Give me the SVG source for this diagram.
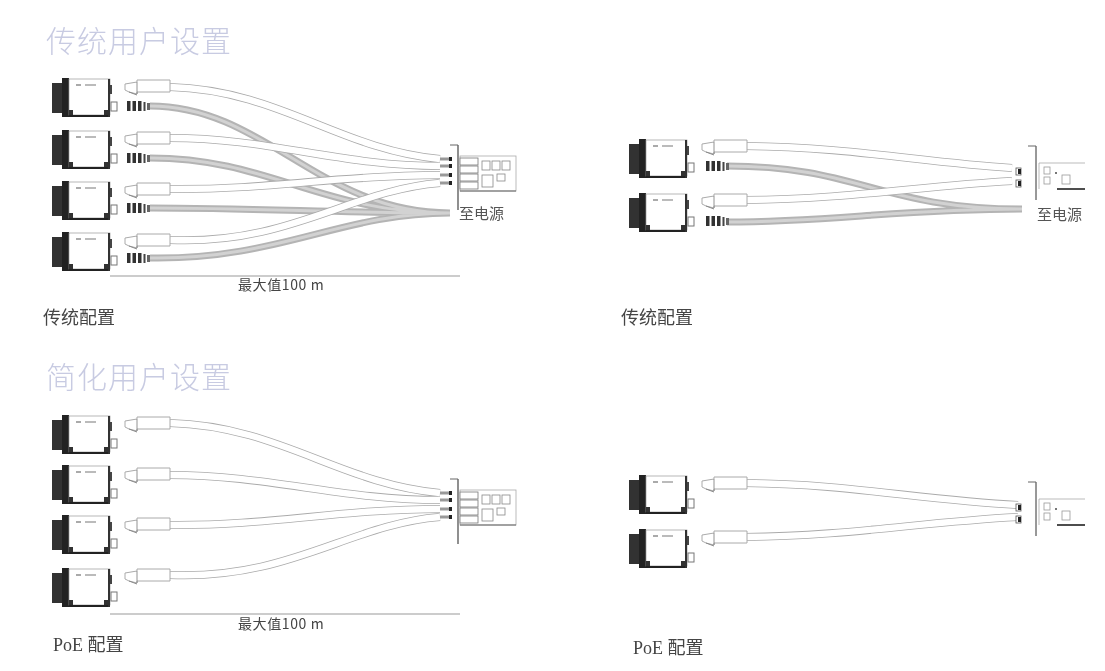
<svg xmlns="http://www.w3.org/2000/svg" xmlns:xlink="http://www.w3.org/1999/xlink" width="1105" height="671" viewBox="0 0 1105 671">
<style>
text{font-family:"Noto Sans CJK SC","Liberation Sans",sans-serif}
.title{font-size:30px;fill:#c8cbe2;font-weight:300;letter-spacing:1px}
.lab{font-size:18px;fill:#444;font-family:"Liberation Serif","Noto Sans CJK SC",serif}
.dim{font-size:14px;fill:#444;letter-spacing:.6px}
.pw{font-size:15px;fill:#555}
.co{fill:none;stroke:#aaa;stroke-width:8}
.ci{fill:none;stroke:#fff;stroke-width:6.4}
.go{fill:none;stroke:#b4b4b4;stroke-width:7}
.gi{fill:none;stroke:#d2d2d2;stroke-width:3}
.ln{fill:none;stroke:#999;stroke-width:1}
.thin{fill:#fff;stroke:#aaa;stroke-width:1}
.k{fill:#222}
</style>
<defs>
<filter id="soft" x="0" y="0" width="100%" height="100%"><feGaussianBlur stdDeviation="0.5"/></filter>
<g id="cam">
<rect x="0" y="5" width="11" height="30" fill="#333"/>
<rect x="10" y="0" width="7" height="39" fill="#222"/>
<rect x="17" y="1" width="41" height="36" fill="#fff" stroke="#999" stroke-width="0.7"/>
<rect x="17" y="37" width="41" height="2" fill="#222"/>
<rect x="56" y="1" width="2" height="38" fill="#333"/>
<rect x="58" y="7" width="2" height="9" fill="#444"/>
<rect x="17" y="32" width="4" height="5" fill="#333"/>
<rect x="52" y="32" width="5" height="5" fill="#333"/>
<rect x="24" y="6" width="5" height="2" fill="#aaa"/>
<rect x="33" y="6" width="11" height="2" fill="#bbb"/>
<rect x="59" y="24" width="6" height="9" fill="#fff" stroke="#777" stroke-width="1"/>
</g>
<g id="plugW">
<path class="thin" d="M0 4L12 2V0H45V12H12V14L4 12L0 10Z"/>
<path d="M12 2V14" stroke="#777" stroke-width="0.8"/>
<path d="M4 12L12 15" stroke="#888" stroke-width="1"/>
</g>
<g id="plugS">
<rect x="0" y="-1" width="3.5" height="10" fill="#333"/>
<rect x="5.5" y="-1" width="3.5" height="10" fill="#333"/>
<rect x="11" y="-1" width="3.5" height="10" fill="#333"/>
<rect x="16.5" y="0" width="2" height="9" fill="#444"/>
<rect x="20" y="1" width="3" height="7" fill="#666"/>
</g>
<g id="card4">
<path d="M11 0V65" stroke="#444" stroke-width="1.2"/>
<path d="M3 0H11" stroke="#666" stroke-width="1"/>
<rect x="13" y="11" width="56" height="35" fill="#fff" stroke="#aaa" stroke-width="0.8"/>
<rect x="13" y="13" width="18" height="7" fill="#fff" stroke="#777" stroke-width="0.8"/>
<rect x="13" y="21" width="18" height="7" fill="#fff" stroke="#777" stroke-width="0.8"/>
<rect x="13" y="29" width="18" height="7" fill="#fff" stroke="#777" stroke-width="0.8"/>
<rect x="13" y="37" width="18" height="7" fill="#fff" stroke="#777" stroke-width="0.8"/>
<rect x="35" y="16" width="8" height="9" fill="#fff" stroke="#888" stroke-width="0.8"/>
<rect x="45" y="16" width="8" height="9" fill="#fff" stroke="#888" stroke-width="0.8"/>
<rect x="55" y="16" width="8" height="9" fill="#fff" stroke="#888" stroke-width="0.8"/>
<rect x="35" y="30" width="11" height="12" fill="#fff" stroke="#888" stroke-width="0.8"/>
<rect x="50" y="29" width="8" height="7" fill="#fff" stroke="#888" stroke-width="0.8"/>
<path d="M13 46H69" stroke="#666" stroke-width="1.2"/>
<path d="M-7 14H2M-7 21H2M-7 30H2M-7 38H2" stroke="#999" stroke-width="3"/>
<rect x="2" y="12" width="3" height="4" class="k"/>
<rect x="2" y="19" width="3" height="4" class="k"/>
<rect x="2" y="28" width="3" height="4" class="k"/>
<rect x="2" y="36" width="3" height="4" class="k"/>
</g>
<g id="card2">
<path d="M11 0V54" stroke="#555" stroke-width="1.2"/>
<path d="M3 0H11" stroke="#666" stroke-width="1"/>
<path d="M14 17H60M14 17V43" fill="none" stroke="#aaa" stroke-width="0.8"/>
<rect x="19" y="21" width="6" height="7" fill="#fff" stroke="#999" stroke-width="0.8"/>
<rect x="19" y="31" width="6" height="7" fill="#fff" stroke="#999" stroke-width="0.8"/>
<rect x="37" y="29" width="8" height="9" fill="#fff" stroke="#999" stroke-width="0.8"/>
<rect x="30" y="26" width="2" height="2" fill="#777"/>
<path d="M32 43H60" stroke="#222" stroke-width="1.6"/>
<rect x="-9" y="22" width="5" height="7" fill="#fff" stroke="#555" stroke-width="0.8"/>
<rect x="-7" y="23" width="3" height="5" class="k"/>
<rect x="-9" y="34" width="5" height="7" fill="#fff" stroke="#555" stroke-width="0.8"/>
<rect x="-7" y="35" width="3" height="5" class="k"/>
</g>
</defs>
<rect width="1105" height="671" fill="#fff"/>
<g filter="url(#soft)">
<g id="connectors">
<path class="go" d="M150 106C265 106 320 213 450 213M150 158C270 158 320 213 450 213M150 208C250 208 350 213 450 213M150 258C280 260 340 213 450 213"/>
<path class="gi" d="M150 106C265 106 320 213 450 213M150 158C270 158 320 213 450 213M150 208C250 208 350 213 450 213M150 258C280 260 340 213 450 213"/>
<path class="co" d="M170 87C280 90 340 150 440 159M170 138C270 138 340 166 440 166M170 189C270 190 340 175 440 175M170 240C290 245 350 190 440 183"/>
<path class="ci" d="M170 87C280 90 340 150 440 159M170 138C270 138 340 166 440 166M170 189C270 190 340 175 440 175M170 240C290 245 350 190 440 183"/>
<path class="co" d="M170 423C280 426 340 484 440 493M170 475C270 475 340 500 440 500M170 525C270 526 340 509 440 509M170 575C290 580 350 524 440 517"/>
<path class="ci" d="M170 423C280 426 340 484 440 493M170 475C270 475 340 500 440 500M170 525C270 526 340 509 440 509M170 575C290 580 350 524 440 517"/>
<path class="go" d="M727 166C860 166 880 209 1022 209M727 222C830 222 900 209 1022 209"/>
<path class="gi" d="M727 166C860 166 880 209 1022 209M727 222C830 222 900 209 1022 209"/>
<path class="co" d="M745 146C850 147 920 162 1012 168M745 200C850 199 920 186 1012 181"/>
<path class="ci" d="M745 146C850 147 920 162 1012 168M745 200C850 199 920 186 1012 181"/>
<path class="co" d="M745 483C850 484 920 500 1018 505M745 537C850 536 920 522 1018 517"/>
<path class="ci" d="M745 483C850 484 920 500 1018 505M745 537C850 536 920 522 1018 517"/>
<path class="ln" d="M110 276H460M110 614H460"/>
</g>
<g id="cam-a1"><use href="#cam" x="52" y="78"/><use href="#plugW" x="125" y="80"/><use href="#plugS" x="127" y="102"/></g>
<g id="cam-a2"><use href="#cam" x="52" y="130"/><use href="#plugW" x="125" y="132"/><use href="#plugS" x="127" y="154"/></g>
<g id="cam-a3"><use href="#cam" x="52" y="181"/><use href="#plugW" x="125" y="183"/><use href="#plugS" x="127" y="204"/></g>
<g id="cam-a4"><use href="#cam" x="52" y="232"/><use href="#plugW" x="125" y="234"/><use href="#plugS" x="127" y="254"/></g>
<g id="cam-b1"><use href="#cam" x="629" y="139"/><use href="#plugW" x="702" y="140"/><use href="#plugS" x="706" y="162"/></g>
<g id="cam-b2"><use href="#cam" x="629" y="193"/><use href="#plugW" x="702" y="194"/><use href="#plugS" x="706" y="217"/></g>
<g id="cam-c1"><use href="#cam" x="52" y="415"/><use href="#plugW" x="125" y="417"/></g>
<g id="cam-c2"><use href="#cam" x="52" y="465"/><use href="#plugW" x="125" y="468"/></g>
<g id="cam-c3"><use href="#cam" x="52" y="515"/><use href="#plugW" x="125" y="518"/></g>
<g id="cam-c4"><use href="#cam" x="52" y="568"/><use href="#plugW" x="125" y="569"/></g>
<g id="cam-d1"><use href="#cam" x="629" y="475"/><use href="#plugW" x="702" y="477"/></g>
<g id="cam-d2"><use href="#cam" x="629" y="529"/><use href="#plugW" x="702" y="531"/></g>
<g id="card-a"><use href="#card4" x="447" y="145"/></g>
<g id="card-b"><use href="#card2" x="1025" y="146"/></g>
<g id="card-c"><use href="#card4" x="447" y="479"/></g>
<g id="card-d"><use href="#card2" x="1025" y="482"/></g>
<g id="labels">
<text class="title" x="46" y="52">传统用户设置</text>
<text class="title" x="46" y="388">简化用户设置</text>
<text class="pw" x="459" y="219">至电源</text>
<text class="pw" x="1037" y="220">至电源</text>
<text class="dim" x="238" y="290">最大值100 m</text>
<text class="dim" x="238" y="629">最大值100 m</text>
<text class="lab" x="43" y="324">传统配置</text>
<text class="lab" x="621" y="324">传统配置</text>
<text class="lab" x="53" y="651">PoE 配置</text>
<text class="lab" x="633" y="654">PoE 配置</text>
</g>
</g>
</svg>
